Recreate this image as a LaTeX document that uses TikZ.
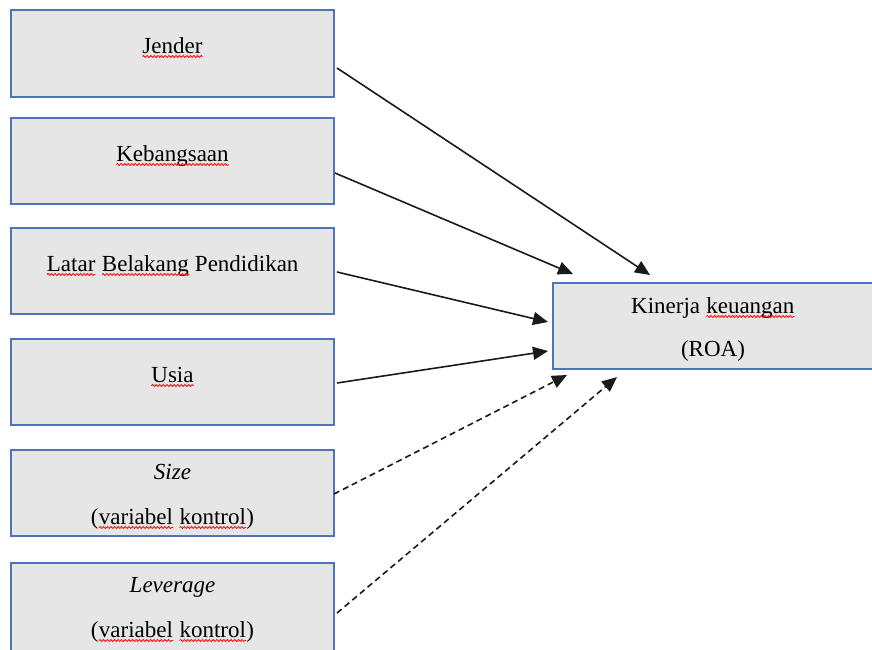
\documentclass[tikz,border=0pt]{standalone}
\usepackage{fontspec}
\setmainfont{Liberation Serif}
\usetikzlibrary{arrows.meta,decorations.pathmorphing}
\definecolor{boxfill}{HTML}{E7E6E6}
\definecolor{boxline}{HTML}{4F74B8}
\definecolor{arrowcol}{HTML}{1A1A1A}
\newcommand\sq[1]{\tikz[baseline=(sqw.base)]{\node[inner sep=0pt, outer sep=0pt, anchor=base] (sqw) {#1};
  \draw[red, line width=0.8pt, decorate, decoration={snake, amplitude=1pt, segment length=3.6pt}]
    ([yshift=-3.5pt]sqw.base west) -- ([yshift=-3.5pt]sqw.base east);}}
\tikzset{
  varbox/.style={draw=boxline, fill=boxfill, line width=1.4pt, rectangle, outer sep=0pt, inner sep=0pt},
  lbl/.style={anchor=base, inner sep=0pt, font=\fontsize{23}{27}\selectfont, text=black},
  solidarrow/.style={draw=arrowcol, line width=1.6pt, -{Triangle[length=15pt,width=13pt]}},
  dasharrow/.style={solidarrow, dash pattern=on 6pt off 4pt}
}
\begin{document}
\begin{tikzpicture}[x=1pt,y=-1pt]
\useasboundingbox (0,0) rectangle (872,649);
% boxes
\node[varbox, minimum width=323pt, minimum height=87pt] (b1) at (172.5,53.5) {};
\node[varbox, minimum width=323pt, minimum height=86pt] (b2) at (172.5,161) {};
\node[varbox, minimum width=323pt, minimum height=86pt] (b3) at (172.5,271) {};
\node[varbox, minimum width=323pt, minimum height=86pt] (b4) at (172.5,382) {};
\node[varbox, minimum width=323pt, minimum height=86pt] (b5) at (172.5,493) {};
\node[varbox, minimum width=323pt, minimum height=92pt] (b6) at (172.5,609) {};
\node[varbox, minimum width=320pt, minimum height=86pt] (r) at (713,326) {};
% texts
\node[lbl] (t1) at (172.5,53) {\sq{Jender}};
\node[lbl] (t2) at (172.5,161) {\sq{Kebangsaan}};
\node[lbl] (t3) at (172.5,271) {\sq{Latar} \sq{Belakang} Pendidikan};
\node[lbl] (t4) at (172.5,382) {\sq{Usia}};
\node[lbl] (t5a) at (172.5,479) {\textit{Size}};
\node[lbl] (t5b) at (172.5,524) {(\sq{variabel} \sq{kontrol})};
\node[lbl] (t6a) at (172.5,592) {\textit{Leverage}};
\node[lbl] (t6b) at (172.5,637) {(\sq{variabel} \sq{kontrol})};
\node[lbl] (tr1) at (713,313) {Kinerja \sq{keuangan}};
\node[lbl] (tr2) at (713,356) {(ROA)};
% arrows
\draw[solidarrow] ([shift={(3,14.5)}]b1.east) -- ([shift={(-63,-8)}]r.north);
\draw[solidarrow] ([shift={(1,12)}]b2.east) -- ([shift={(-140,-9)}]r.north);
\draw[solidarrow] ([shift={(3,1)}]b3.east) -- ([shift={(-5,-4)}]r.west);
\draw[solidarrow] ([shift={(3,1)}]b4.east) -- ([shift={(-5,25)}]r.west);
\draw[dasharrow] ([shift={(0,1)}]b5.east) -- ([shift={(-146,6)}]r.south);
\draw[dasharrow] ([shift={(3,4)}]b6.east) -- ([shift={(-96,8)}]r.south);
\end{tikzpicture}
\end{document}
